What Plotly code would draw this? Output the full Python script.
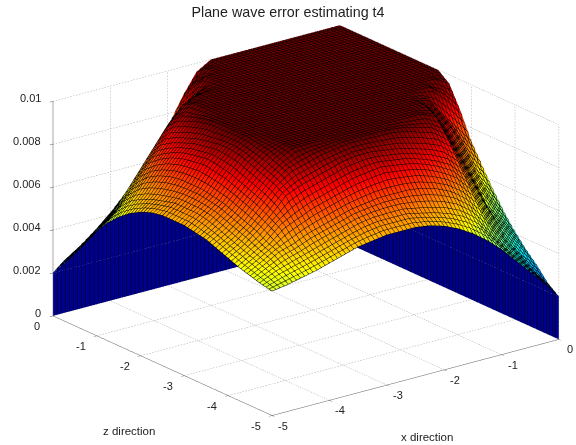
import numpy as np
import plotly.graph_objects as go

TITLE = "Plane wave error estimating t4"
X_LABEL = "x direction"
Z_LABEL = "z direction"
HORIZ_TICKS = [-5, -4, -3, -2, -1, 0]
VALUE_TICKS = [0, 0.002, 0.004, 0.006, 0.008, 0.01]
VALUE_TICK_TEXT = ["0", "0.002", "0.004", "0.006", "0.008", "0.01"]

# grid distance from the origin along each direction, step .25
DIST = [i * 0.25 for i in range(21)]

# error x 1000; lower triangle, the surface mirrors across the diagonal
ERR_ROWS = [
    [10],
    [10, 10],
    [10, 10, 10],
    [10, 10, 10, 10],
    [10, 10, 10, 10, 10],
    [10, 10, 10, 10, 10, 10],
    [10, 10, 10, 10, 10, 10, 10],
    [10, 10, 10, 10, 10, 10, 10, 10],
    [10, 10, 10, 10, 10, 10, 10, 10, 10],
    [10, 10, 10, 10, 10, 10, 10, 10, 10, 10],
    [9.6, 10, 10, 10, 10, 10, 10, 10, 10, 10, 10],
    [8.6, 9.4, 10, 10, 10, 10, 10, 10, 10, 10, 10, 10],
    [7.4, 8.2, 9.0, 9.8, 10, 10, 10, 10, 10, 10, 10, 10, 10],
    [6.5, 7.3, 8.4, 9.3, 10, 10, 10, 10, 10, 10, 10, 10, 10, 10],
    [5.6, 6.4, 7.5, 8.6, 9.7, 10, 10, 10, 10, 10, 10, 10, 10, 10, 10],
    [4.8, 5.6, 6.6, 7.8, 9.0, 9.5, 9.7, 9.9, 10, 10, 10, 10, 9.9, 9.8, 9.6, 9.4],
    [4.1, 4.9, 5.7, 7.0, 8.1, 8.7, 9.0, 9.2, 9.4, 9.5, 9.6, 9.6, 9.5, 9.3, 9.1, 8.9, 8.6],
    [3.5, 4.3, 5.1, 6.1, 7.2, 7.9, 8.3, 8.6, 8.8, 8.9, 9.0, 8.9, 8.8, 8.6, 8.4, 8.2, 7.9, 7.6],
    [3.0, 3.6, 4.4, 5.3, 6.3, 7.0, 7.5, 7.8, 8.0, 8.1, 8.1, 8.1, 8.0, 7.9, 7.7, 7.5, 7.3, 7.0, 6.8],
    [2.4, 3.1, 3.9, 4.6, 5.4, 6.2, 6.7, 7.0, 7.2, 7.35, 7.5, 7.5, 7.5, 7.4, 7.2, 7.0, 6.8, 6.6, 6.4, 6.2],
    [2.0, 2.8, 3.5, 4.2, 4.9, 5.5, 6.0, 6.4, 6.7, 6.9, 7.0, 7.0, 7.0, 6.9, 6.8, 6.6, 6.4, 6.2, 6.05, 5.9, 5.8],
]

n = len(DIST)
err = np.zeros((n, n))
for i, row in enumerate(ERR_ROWS):
    for j, v in enumerate(row):
        err[i, j] = err[j, i] = v / 1000.0
coord = -np.array(DIST)

JET = [[0, "rgb(0,0,143)"], [0.125, "rgb(0,0,255)"], [0.375, "rgb(0,255,255)"],
       [0.625, "rgb(255,255,0)"], [0.875, "rgb(255,0,0)"], [1, "rgb(105,0,0)"]]
FLAT = dict(ambient=1, diffuse=0, specular=0, roughness=1, fresnel=0)
MESH = 5 / 70
mesh = dict(show=True, color="black", width=1, start=-5, end=0, size=MESH, highlight=False)
off = dict(show=False, highlight=False)

fig = go.Figure()
fig.add_trace(go.Surface(x=coord, y=coord, z=err, cmin=0, cmax=0.01, colorscale=JET,
                         showscale=False, lighting=FLAT, hoverinfo="skip",
                         contours=dict(x=mesh, y=mesh, z=off)))
# walls that drop from the back edges to the floor
navy = [[0, "rgb(0,0,143)"], [1, "rgb(0,0,143)"]]
edge = err[0, :]
for kind in ("along_x", "along_y"):
    a = np.vstack([coord, coord])
    b = np.vstack([np.full(n, 0.0), np.full(n, -0.0001)])
    h = np.vstack([edge, np.zeros(n)])
    fig.add_trace(go.Surface(
        x=a if kind == "along_x" else b, y=b if kind == "along_x" else a, z=h,
        surfacecolor=np.zeros_like(h), cmin=0, cmax=1, colorscale=navy, showscale=False,
        lighting=FLAT, hoverinfo="skip",
        contours=dict(x=mesh if kind == "along_x" else off,
                      y=off if kind == "along_x" else mesh, z=off)))

# dotted grid on the floor and the two back walls
gx, gy, gz = [], [], []
zmax = VALUE_TICKS[-1]


def dotted(p, q, count):
    for k in range(count):
        s0, s1 = k / count, (k + 0.5) / count
        for s in (s0, s1):
            gx.append(p[0] + (q[0] - p[0]) * s)
            gy.append(p[1] + (q[1] - p[1]) * s)
            gz.append(p[2] + (q[2] - p[2]) * s)
        gx.append(None); gy.append(None); gz.append(None)


for t in HORIZ_TICKS:
    dotted((t, -5, 0), (t, 0, 0), 100)
    dotted((-5, t, 0), (0, t, 0), 100)
    dotted((t, 0, 0), (t, 0, zmax), 70)
    dotted((0, t, 0), (0, t, zmax), 70)
for v in VALUE_TICKS:
    dotted((-5, 0, v), (0, 0, v), 100)
    dotted((0, -5, v), (0, 0, v), 100)
fig.add_trace(go.Scatter3d(x=gx, y=gy, z=gz, mode="lines", hoverinfo="skip", showlegend=False,
                           line=dict(color="#a8a8a8", width=1)))

FONT = "Liberation Sans, Arial"
tickfont = dict(family=FONT, size=11, color="#222222")
axis = dict(showgrid=False, showbackground=False, zeroline=False, showline=True, linecolor="#555555",
            linewidth=1, ticks="outside", ticklen=4, tickcolor="#555555", showspikes=False,
            showticklabels=False, tickmode="array", title=dict(text=""))
labelfont = dict(family=FONT, size=11.5, color="#222222")

tick_notes = []
for t in HORIZ_TICKS:
    tick_notes.append(dict(x=t, y=-5, z=0, text=str(t), showarrow=False,
                           xshift=11, yshift=-10, font=tickfont))
    tick_notes.append(dict(x=-5, y=t, z=0, text=str(t), showarrow=False,
                           xshift=-16, yshift=-10, font=tickfont))
for v, label in zip(VALUE_TICKS, VALUE_TICK_TEXT):
    tick_notes.append(dict(x=-5, y=0, z=v, text=label, showarrow=False, xanchor="right",
                           xshift=-10, yshift=3, font=tickfont))

S = 1.622
CX, CY, CZ = -0.0669, 0.0453, -0.0085
fig.update_layout(
    width=576, height=445, margin=dict(l=0, r=0, t=0, b=0), paper_bgcolor="white",
    showlegend=False, hovermode=False,
    title=dict(text=TITLE, x=0.5, xanchor="center", y=1 - 12 / 445, yanchor="middle",
               font=dict(family=FONT, size=14.3, color="#222222")),
    annotations=[
        dict(text=X_LABEL, x=427 / 576, y=1 - 437 / 445, xref="paper", yref="paper", xanchor="center", yanchor="middle", showarrow=False, font=labelfont),
        dict(text=Z_LABEL, x=129 / 576, y=1 - 431 / 445, xref="paper", yref="paper", xanchor="center", yanchor="middle", showarrow=False, font=labelfont),
    ],
    scene=dict(
        domain=dict(x=[0, 1], y=[0, 1]),
        aspectmode="manual", aspectratio=dict(x=S, y=S, z=0.634 * S),
        camera=dict(projection=dict(type="orthographic"), up=dict(x=0, y=0, z=1),
                    center=dict(x=CX, y=CY, z=CZ),
                    eye=dict(x=-0.569 * 2 + CX, y=-0.745 * 2 + CY, z=0.3475 * 2 + CZ)),
        xaxis=dict(axis, range=[-5, 0], tickvals=HORIZ_TICKS),
        yaxis=dict(axis, range=[-5, 0], tickvals=HORIZ_TICKS),
        zaxis=dict(axis, range=[0, 0.01], tickvals=VALUE_TICKS),
        annotations=tick_notes,
    ),
)
fig.write_html("out.html", post_script="document.body.style.margin='0';", config={"displayModeBar": False})
